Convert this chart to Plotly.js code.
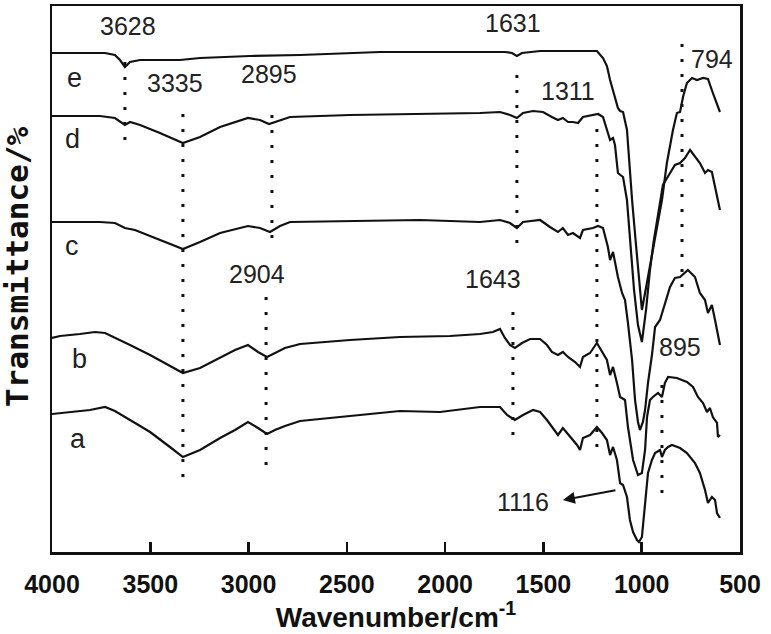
<!DOCTYPE html>
<html>
<head>
<meta charset="utf-8">
<script src="https://cdn.plot.ly/plotly-3.0.1.min.js"></script>
<style>html,body{margin:0;padding:0;background:#fff;}</style>
</head>
<body>
<div id="chart" style="width:771px;height:634px;"></div>
<script>
// ---- data (wavenumber in cm-1, relative transmittance with vertical offsets) ----
const wnE = [4000,3858,3730,3680,3654,3629,3603,3552,3349,3247,2993,2738,2331,1975,1696,1660,1635,1609,1517,1314,1228,1197,1177,1161,1136,1121,1110,1095,1075,1060,1049,1029,1009,999,983,958,932,897,872,841,821,805,790,770,744,719,688,663,638,602];
const tE  = [499,499,499,497,492,485,490,492,492,494,496,497,500,500,500,499,496,499,501,501,501,494,486,472,455,444,441,440,422,377,352,307,262,242,259,287,315,352,389,422,439,440,455,469,474,472,474,473,459,440];

const wnD = [4000,3756,3680,3629,3603,3552,3451,3334,3247,3145,3003,2942,2896,2840,2789,2484,2128,1823,1721,1670,1635,1604,1553,1502,1457,1426,1401,1375,1350,1324,1299,1248,1222,1197,1177,1161,1146,1136,1121,1095,1075,1060,1039,1019,999,978,958,938,917,892,877,856,831,805,780,754,729,704,678,663,643,617,602];
const tD  = [436,436,434,427,430,427,419,409,415,425,434,432,428,432,435,437,438,439,440,437,434,439,441,440,435,432,434,430,430,429,435,437,438,435,422,412,414,407,379,375,352,312,262,227,210,242,282,312,337,367,372,379,387,389,394,402,395,389,379,382,380,355,342];

const wnC = [4000,3756,3680,3629,3578,3451,3334,3247,3145,3003,2942,2891,2840,2789,2484,2128,1823,1721,1670,1635,1604,1517,1467,1426,1401,1375,1350,1314,1299,1248,1222,1197,1172,1161,1146,1121,1100,1085,1070,1049,1034,1019,1009,994,983,968,948,932,907,882,856,831,805,765,729,704,678,663,643,627,602];
const tC  = [330,330,329,324,322,312,303,310,319,326,324,320,326,330,331,332,330,332,329,324,330,332,325,320,324,317,319,314,322,324,326,324,305,292,300,275,259,252,229,192,152,130,122,130,142,169,197,225,232,249,265,274,275,282,275,259,252,239,247,232,207];

const wnB = [4000,3959,3858,3781,3730,3680,3603,3501,3400,3334,3247,3145,3069,3003,2952,2906,2866,2815,2738,2484,2230,1975,1823,1757,1721,1696,1670,1645,1609,1568,1517,1482,1457,1426,1401,1375,1339,1314,1299,1263,1228,1202,1177,1161,1146,1126,1110,1085,1070,1044,1019,999,983,973,958,943,917,897,882,866,821,770,739,714,688,668,653,638,617,612,602];
const tB  = [214,216,218,220,219,214,207,197,186,179,184,194,202,207,200,195,199,204,208,212,215,216,218,220,223,214,207,204,209,213,213,207,200,197,200,195,190,185,195,199,209,200,192,177,185,169,155,152,125,92,77,79,102,135,152,155,159,155,169,175,174,170,165,155,149,140,144,135,129,115,117];

const wnA = [4000,3908,3807,3730,3680,3603,3501,3400,3334,3247,3145,3069,3003,2952,2906,2866,2815,2738,2484,2230,2026,1823,1721,1685,1645,1604,1553,1517,1482,1451,1426,1401,1365,1329,1314,1299,1263,1228,1202,1177,1161,1146,1126,1110,1095,1075,1060,1044,1024,1014,999,983,968,948,932,907,897,882,866,846,805,770,729,704,678,663,643,627,617,602];
const tA  = [138,140,142,145,141,132,120,105,95,102,114,122,130,124,118,122,126,131,136,141,140,145,145,137,132,137,142,140,132,124,117,124,115,107,102,114,117,125,119,112,97,105,92,69,67,55,32,20,12,10,15,49,79,92,99,102,95,102,105,107,104,99,89,79,62,49,55,52,39,34];

const seriesNames = ['a','b','c','d','e'];

// peak marker lines: position, lower and upper extent
const peakPos   = [3629, 3334, 2881, 2911, 1635, 1655, 1228, 795, 897];
const peakLow   = [412, 75, 314, 87, 309, 117, 105, 265, 59];
const peakHigh  = [502, 444, 447, 264, 485, 249, 430, 515, 177];

// peak labels
const peakLabels = ['3628','3335','2895','2904','1631','1311','794','1643','895','1116'];
const peakLabelX = [3613, 3374, 2896, 2957, 1655, 1375, 643, 1757, 805, 1604];
const peakLabelY = [526, 469, 478, 278, 529, 461, 493, 273, 205, 50];

// curve letters (a..e)
const letterX = [3868, 3858, 3898, 3898, 3888];
const letterY = [113, 193, 306, 413, 474];

// arrow for 1116
const arrowFrom = [1126, 62];
const arrowTo   = [1401, 52];

// ---- build ----
const lineStyle = {color:'#111', width:2.2};
const curves = [[wnA,tA],[wnB,tB],[wnC,tC],[wnD,tD],[wnE,tE]];
const traces = curves.map((c,i)=>({
  type:'scatter', mode:'lines', x:c[0], y:c[1], name:seriesNames[i],
  line:lineStyle, hoverinfo:'skip', showlegend:false
}));

const shapes = peakPos.map((p,i)=>({
  type:'line', xref:'x', yref:'y', x0:p, x1:p, y0:peakLow[i], y1:peakHigh[i],
  line:{color:'#111', width:3, dash:'3px,12px'}
}));

const numFont = {family:'Arial, "Liberation Sans", sans-serif', size:25, color:'#222'};
const annotations = [];
peakLabels.forEach((t,i)=>annotations.push({
  xref:'x', yref:'y', x:peakLabelX[i], y:peakLabelY[i], text:t, showarrow:false,
  xanchor:'center', yanchor:'middle', font:numFont
}));
seriesNames.forEach((t,i)=>annotations.push({
  xref:'x', yref:'y', x:letterX[i], y:letterY[i], text:t, showarrow:false,
  xanchor:'center', yanchor:'middle',
  font:{family:'Arial, "Liberation Sans", sans-serif', size:27, color:'#222'}
}));
annotations.push({
  xref:'x', yref:'y', x:arrowTo[0], y:arrowTo[1], axref:'x', ayref:'y',
  ax:arrowFrom[0], ay:arrowFrom[1], text:'', showarrow:true,
  arrowhead:2, arrowsize:1.2, arrowwidth:2, arrowcolor:'#111'
});
annotations.push({
  xref:'paper', yref:'paper', x:-0.051, y:0.522, text:'Transmittance/%',
  textangle:-90, showarrow:false, xanchor:'center', yanchor:'middle',
  font:{family:'"DejaVu Sans Mono", monospace', size:31, color:'#111', weight:'bold'}
});

const layout = {
  width:771, height:634,
  margin:{l:52, r:31, t:6, b:82},
  paper_bgcolor:'#fff', plot_bgcolor:'#fff',
  xaxis:{
    range:[4000,500], tick0:0, dtick:500,
    ticks:'inside', ticklen:10, tickwidth:2.5, tickcolor:'#111',
    showline:true, linewidth:2.5, linecolor:'#111', mirror:true,
    showgrid:false, zeroline:false,
    ticklabelstandoff:8,
    tickfont:{family:'Arial, "Liberation Sans", sans-serif', size:25, color:'#111', weight:'bold'},
    title:{text:'Wavenumber/cm<sup>-1</sup>', standoff:8,
      font:{family:'Arial, "Liberation Sans", sans-serif', size:28, color:'#111', weight:'bold'}}
  },
  yaxis:{
    range:[0,546], showticklabels:false, ticks:'',
    showline:true, linewidth:2.5, linecolor:'#111', mirror:true,
    showgrid:false, zeroline:false
  },
  shapes:shapes,
  annotations:annotations
};

Plotly.newPlot('chart', traces, layout, {staticPlot:true, displayModeBar:false});
</script>
</body>
</html>
